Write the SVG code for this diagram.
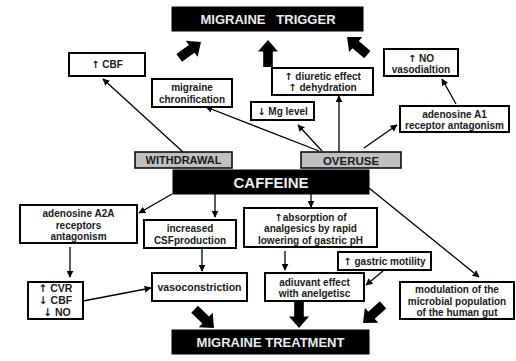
<svg xmlns="http://www.w3.org/2000/svg" width="516" height="361" viewBox="0 0 516 361">
<defs>
<style>
.box{fill:#fff;stroke:#000;stroke-width:2}
.gray{fill:#c0c0c0;stroke:#000;stroke-width:1.5}
.dark{fill:#000;stroke:#000}
text{font-family:"Liberation Sans",Arial,sans-serif;font-weight:bold;text-anchor:middle;fill:#1a1a1a}
.a{font-family:"DejaVu Sans",sans-serif;font-weight:bold}
.t{font-size:10px}
.lt{fill:#ececec}
.ln{stroke:#000;stroke-width:1.3;fill:none;marker-end:url(#ah)}
.big{fill:#000}
</style>
<marker id="ah" viewBox="0 0 10 10" refX="9" refY="5" markerWidth="7" markerHeight="7" markerUnits="userSpaceOnUse" orient="auto">
<path d="M0,0 L10,5 L0,10 Z" fill="#000"/>
</marker>
<path id="fat" d="M0,0 L10,11.5 L4.8,11.5 L4.8,27 L-4.8,27 L-4.8,11.5 L-10,11.5 Z"/>
</defs>

<g id="trigger"><rect class="dark" x="172" y="7" width="191" height="24"/><text class="lt" x="268" y="24" font-size="13" xml:space="preserve">MIGRAINE   TRIGGER</text></g>
<g id="cbf-up"><rect class="box" x="69" y="53" width="76" height="23"/><text class="t" x="107" y="68"><tspan class="a">↑</tspan> CBF</text></g>
<g id="chronification"><rect class="box" x="152" y="79" width="80" height="28"/><text class="t" x="192" y="91">migraine</text><text class="t" x="192" y="102.5">chronification</text></g>
<g id="mg"><rect class="box" x="251" y="102" width="63" height="18"/><text class="t" x="282.5" y="114.5"><tspan class="a">↓</tspan> Mg level</text></g>
<g id="diuretic"><rect class="box" x="272" y="68" width="101" height="27"/><text class="t" x="322.5" y="79.5"><tspan class="a">↑</tspan> diuretic effect</text><text class="t" x="322.5" y="91"><tspan class="a">↑</tspan> dehydration</text></g>
<g id="no-vaso"><rect class="box" x="384" y="49" width="74" height="27"/><text class="t" x="421" y="61.5"><tspan class="a">↑</tspan> NO</text><text class="t" x="421" y="73">vasodialtion</text></g>
<g id="a1"><rect class="box" x="400" y="106" width="109" height="26"/><text class="t" x="454.5" y="117.5">adenosine A1</text><text class="t" x="454.5" y="129">receptor antagonism</text></g>
<g id="withdrawal"><rect class="gray" x="135" y="152" width="97" height="16"/><text x="183.5" y="164" font-size="11">WITHDRAWAL</text></g>
<g id="overuse"><rect class="gray" x="301" y="152" width="100" height="16"/><text x="351" y="164.5" font-size="11.5">OVERUSE</text></g>
<g id="caffeine"><rect class="dark" x="173" y="170" width="196" height="24"/><text class="lt" x="271" y="187.5" font-size="15">CAFFEINE</text></g>
<g id="a2a"><rect class="box" x="20" y="205" width="117" height="38"/><text class="t" x="78.5" y="217">adenosine A2A</text><text class="t" x="78.5" y="228.5">receptors</text><text class="t" x="78.5" y="240">antagonism</text></g>
<g id="csf"><rect class="box" x="144" y="220" width="92" height="28"/><text class="t" x="190" y="231.5">increased</text><text class="t" x="190" y="243.5">CSFproduction</text></g>
<g id="absorption"><rect class="box" x="244" y="208" width="133" height="39"/><text class="t" x="310.5" y="220.5"><tspan class="a">↑</tspan>absorption of</text><text class="t" x="310.5" y="232">analgesics by rapid</text><text class="t" x="310.5" y="243.5">lowering of gastric pH</text></g>
<g id="motility"><rect class="box" x="338" y="252" width="93" height="18"/><text class="t" x="384.5" y="264.5"><tspan class="a">↑</tspan> gastric motility</text></g>
<g id="adiuvant"><rect class="box" x="265" y="273" width="99" height="28"/><text class="t" x="314.5" y="285.5">adiuvant effect</text><text class="t" x="314.5" y="297">with anelgetisc</text></g>
<g id="modulation"><rect class="box" x="400" y="282" width="114" height="37"/><text class="t" x="457" y="292.5">modulation of the</text><text class="t" x="457" y="304.5">microbial population</text><text class="t" x="457" y="316">of the human gut</text></g>
<g id="cvr"><rect class="box" x="28" y="282" width="55" height="37"/><text x="55.5" y="292" font-size="10.5"><tspan class="a">↑</tspan> CVR</text><text x="55.5" y="304" font-size="10.5"><tspan class="a">↓</tspan> CBF</text><text x="57" y="316" font-size="10.5"><tspan class="a">↓</tspan> NO</text></g>
<g id="vasoconstriction"><rect class="box" x="152" y="273" width="95" height="28"/><text x="199.5" y="290.5" font-size="10.5">vasoconstriction</text></g>
<g id="treatment"><rect class="dark" x="172" y="330" width="197" height="24"/><text class="lt" x="270.5" y="346.5" font-size="13">MIGRAINE TREATMENT</text></g>

<g id="connectors">
<line class="ln" x1="183" y1="152" x2="103" y2="79"/>
<line class="ln" x1="319" y1="151" x2="206" y2="107"/>
<line class="ln" x1="322" y1="151" x2="298" y2="125"/>
<line class="ln" x1="339" y1="152" x2="339" y2="96"/>
<line class="ln" x1="364" y1="148" x2="397" y2="125"/>
<line class="ln" x1="456" y1="104" x2="442" y2="79"/>
<line class="ln" x1="172" y1="194" x2="139" y2="213"/>
<line class="ln" x1="215" y1="194" x2="215" y2="217"/>
<line class="ln" x1="311" y1="194" x2="311" y2="207"/>
<line class="ln" x1="369" y1="188" x2="479" y2="277"/>
<line class="ln" x1="70" y1="247" x2="70" y2="277"/>
<line class="ln" x1="202" y1="249" x2="202" y2="271"/>
<line class="ln" x1="83" y1="301" x2="151" y2="288"/>
<line class="ln" x1="285" y1="251" x2="285" y2="270"/>
<line class="ln" x1="383" y1="271" x2="366" y2="285"/>
<use href="#fat" class="big" transform="translate(201,42) rotate(54)"/>
<use href="#fat" class="big" transform="translate(268,40)"/>
<use href="#fat" class="big" transform="translate(347,37) rotate(-49)"/>
<use href="#fat" class="big" transform="translate(214,328) rotate(134)"/>
<use href="#fat" class="big" transform="translate(299,328) rotate(180)"/>
<use href="#fat" class="big" transform="translate(363,323) rotate(-132)"/>
</g>
</svg>
